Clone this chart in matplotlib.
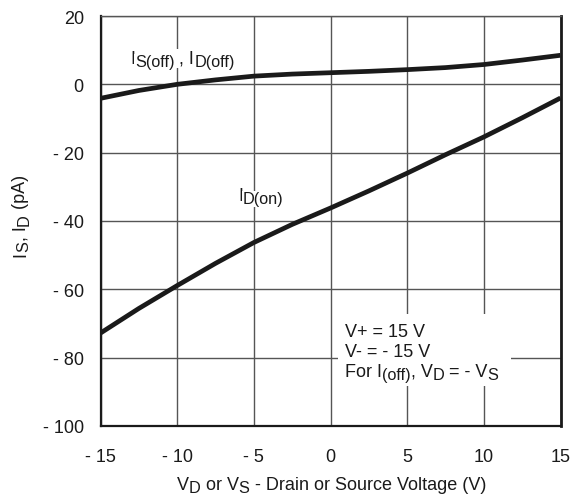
import numpy as np
import matplotlib.pyplot as plt
from matplotlib.transforms import IdentityTransform
from matplotlib.patches import Rectangle

plt.rcParams['font.family'] = ['Liberation Sans', 'DejaVu Sans']

# leakage current vs. drain/source voltage
v = [-15, -12.5, -10, -7.5, -5, -2.5, 0, 2.5, 5, 7.5, 10, 12.5, 15]
i_off = [-4.1, -1.8, 0.0, 1.3, 2.4, 3.0, 3.4, 3.8, 4.3, 4.9, 5.8, 7.1, 8.5]
i_on = [-72.8, -65.6, -58.9, -52.4, -46.3, -41.0, -36.2, -31.2, -26.0, -20.6, -15.4, -9.8, -4.0]

xticks = [-15, -10, -5, 0, 5, 10, 15]
xlabels = ['- 15', '- 10', '- 5', '0', '5', '10', '15']
yticks = [20, 0, -20, -40, -60, -80, -100]
ylabels = ['20', '0', '- 20', '- 40', '- 60', '- 80', '- 100']

FS = 13
W, H = 572, 502

fig = plt.figure(figsize=(W / 100, H / 100), dpi=100)
ax = fig.add_axes([100.5 / W, 1 - 427 / H, 460 / W, 410 / H])
renderer = fig.canvas.get_renderer()


def rich(x, y, runs, size=FS, rot=0, bg=True):
    """Draw text runs starting at pixel (x, y from top); runs are (text, is_sub)."""
    th = np.radians(rot)
    ux, uy = np.cos(th), np.sin(th)
    px, py = x, H - y
    for s, sub in runs:
        fs = size * 0.9 if sub else size
        shift = 3.2 if sub else 0.0
        t = ax.text(px + shift * uy, py - shift * ux, s, fontsize=fs,
                    transform=IdentityTransform(), ha='left', va='baseline',
                    rotation_mode='anchor', color='#1a1a1a', zorder=4)
        if bg:
            t.set_bbox(dict(facecolor='white', edgecolor='none', pad=0.5))
        w = t.get_window_extent(renderer).width
        t.set_rotation(rot)
        px += w * ux
        py += w * uy


ax.plot(v, i_off, color='#1a1a1a', lw=3.4, solid_capstyle='butt', zorder=3)
ax.plot(v, i_on, color='#1a1a1a', lw=3.4, solid_capstyle='butt', zorder=3)

ax.set_xlim(-15, 15)
ax.set_ylim(-100, 20)
ax.set_xticks(xticks)
ax.set_xticklabels(xlabels)
ax.set_yticks(yticks)
ax.set_yticklabels(ylabels)
ax.tick_params(length=0, labelsize=FS, colors='#1a1a1a')
ax.tick_params(axis='x', pad=16)
ax.tick_params(axis='y', pad=12)
ax.grid(True, color='#555555', lw=1.0)

for side in ['left', 'bottom']:
    ax.spines[side].set_linewidth(1.6)
    ax.spines[side].set_color('#1a1a1a')
ax.spines['right'].set_linewidth(2.0)
ax.spines['right'].set_color('#1a1a1a')
ax.spines['top'].set_linewidth(1.0)
ax.spines['top'].set_color('#555555')

# curve labels
rich(130, 64, [('I', 0), ('S(off)', 1), (' , I', 0), ('D(off)', 1)])
rich(238, 201, [('I', 0), ('D(on)', 1)])

# test conditions block
ax.add_patch(Rectangle((338, H - 387), 173, 72, transform=IdentityTransform(),
                       facecolor='white', edgecolor='none', zorder=3.5))
rich(345, 337, [('V+ = 15 V', 0)], bg=False)
rich(345, 357, [('V- = - 15 V', 0)], bg=False)
rich(345, 377, [('For I', 0), ('(off)', 1), (', V', 0), ('D', 1), (' = - V', 0), ('S', 1)], bg=False)

# axis titles
rich(177, 490, [('V', 0), ('D', 1), (' or V', 0), ('S', 1),
                (' - Drain or Source Voltage (V)', 0)], bg=False)
rich(25, 257, [('I', 0), ('S', 1), (', I', 0), ('D', 1), (' (pA)', 0)], rot=90, bg=False)

fig.savefig('out.png', dpi=100)
